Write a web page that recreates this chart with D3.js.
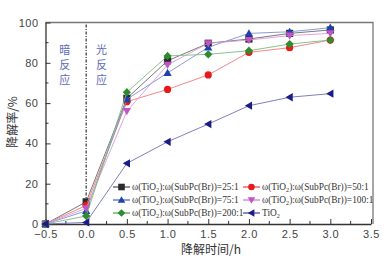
<!DOCTYPE html>
<html><head><meta charset="utf-8">
<script src="https://cdn.jsdelivr.net/npm/d3@7"></script>
<style>body{margin:0;background:#fff}svg{display:block}</style>
</head><body>
<svg id="c" width="390" height="261"></svg>
<script>
const times = [-0.5, 0, 0.5, 1.0, 1.5, 2.0, 2.5, 3.0];
const s25 = [0, 11, 62.4, 81, 89.7, 91.8, 94.6, 96.3];
const s50 = [0, 9.2, 60.7, 66.8, 74, 85.2, 87.5, 91.3];
const s75 = [0, 6.5, 61.9, 75, 87.7, 94.6, 95.4, 97.4];
const s100 = [0, 7.8, 56, 79, 89.7, 91.3, 93.5, 94.6];
const s200 = [0, 4, 65.4, 83.4, 84.2, 86, 89.3, 91.3];
const sTiO2 = [0, 0.8, 30.1, 40.8, 49.6, 58.7, 62.9, 64.7];
const ratios = ["25:1", "50:1", "75:1", "100:1", "200:1"];
const xTicks = [-0.5, 0.0, 0.5, 1.0, 1.5, 2.0, 2.5, 3.0, 3.5];
const yTicks = [0, 20, 40, 60, 80, 100];
const xLabel = "降解时间/h";
const yLabel = "降解率/%";
const darkLabel = "暗反应";
const lightLabel = "光反应";

const series = [
  {name: ratios[0], vals: s25, sym: "square", fill: "#2b2b2b", line: "#6a6a6a"},
  {name: ratios[1], vals: s50, sym: "circle", fill: "#e8191b", line: "#f07a7a"},
  {name: ratios[2], vals: s75, sym: "tri-up", fill: "#2040b0", line: "#7f90d0"},
  {name: ratios[3], vals: s100, sym: "tri-down", fill: "#c055c8", line: "#d89ad8"},
  {name: ratios[4], vals: s200, sym: "diamond", fill: "#2e8b2e", line: "#7cbc7c"},
  {name: "TiO2", vals: sTiO2, sym: "tri-left", fill: "#1c1c88", line: "#6f6fb8"}
];

const svg = d3.select("#c");
const x = d3.scaleLinear().domain([-0.5, 3.5]).range([45.5, 371]);
const y = d3.scaleLinear().domain([0, 100]).range([224, 22.5]);

svg.append("path").attr("d", `M${x(-0.5)},${y(100)}H${x(3.5)+2}V${y(0)}`)
  .attr("fill","none").attr("stroke","#777").attr("stroke-width",1.3);

const fontAx = "Liberation Sans, Arial, sans-serif";
const xAxis = d3.axisBottom(x).tickValues(xTicks).tickFormat(d3.format(".1f")).tickSizeInner(-5).tickSizeOuter(0).tickPadding(6);
const gx = svg.append("g").attr("transform", `translate(0,${y(0)})`).call(xAxis);
const xMinor = d3.range(-0.25, 3.5, 0.5);
gx.selectAll(".minor").data(xMinor).enter().append("line").attr("class","minor")
  .attr("x1", d=>x(d)).attr("x2", d=>x(d)).attr("y1",0).attr("y2",-3).attr("stroke","#333");
const yAxis = d3.axisLeft(y).tickValues(yTicks).tickSizeInner(-5).tickSizeOuter(0).tickPadding(7);
const gy = svg.append("g").attr("transform", `translate(${x(-0.5)},0)`).call(yAxis);
const yMinor = d3.range(10, 100, 20);
gy.selectAll(".minor").data(yMinor).enter().append("line").attr("class","minor")
  .attr("y1", d=>y(d)).attr("y2", d=>y(d)).attr("x1",0).attr("x2",3).attr("stroke","#333");
[gx, gy].forEach(g => {
  g.selectAll(".domain").attr("stroke","#333").attr("stroke-width",1.3);
  g.selectAll(".tick line").attr("stroke","#333");
  g.selectAll("text").attr("font-family", fontAx).attr("font-size", 11).attr("fill","#444").attr("letter-spacing", 0.5);
});

svg.append("line").attr("x1", x(0)).attr("x2", x(0)).attr("y1", y(100)+2).attr("y2", y(0))
  .attr("stroke","#444").attr("stroke-width",1.3).attr("stroke-dasharray","3,1.5,1,1.5");

function vText(str, cx, y0) {
  const g = svg.append("g");
  str.split("").forEach((ch,i) => {
    g.append("text").attr("x", cx).attr("y", y0 + i*15).attr("text-anchor","middle")
      .attr("font-family","Noto Sans CJK SC").attr("font-size",11).attr("fill","#5b6bb8").text(ch);
  });
}
vText(darkLabel, x(-0.25)-1, 54);
vText(lightLabel, x(0.2)-1, 54);

function sym(g, type, cx, cy, r, fill) {
  let s;
  if (type==="square") s = g.append("rect").attr("x",cx-r).attr("y",cy-r).attr("width",2*r).attr("height",2*r);
  else if (type==="circle") s = g.append("circle").attr("cx",cx).attr("cy",cy).attr("r",r);
  else {
    let pts;
    const k = r*1.15;
    if (type==="tri-up") pts=[[cx,cy-k],[cx+k,cy+k*0.75],[cx-k,cy+k*0.75]];
    else if (type==="tri-down") pts=[[cx,cy+k],[cx+k,cy-k*0.75],[cx-k,cy-k*0.75]];
    else if (type==="tri-left") pts=[[cx-k,cy],[cx+k*0.75,cy-k],[cx+k*0.75,cy+k]];
    else pts=[[cx,cy-k],[cx+k*0.5,cy-k*0.5],[cx+k,cy],[cx+k*0.5,cy+k*0.5],[cx,cy+k],[cx-k*0.5,cy+k*0.5],[cx-k,cy],[cx-k*0.5,cy-k*0.5]];
    s = g.append("polygon").attr("points", pts.map(p=>p.join(",")).join(" "));
  }
  s.attr("fill", fill);
}

const lineGen = d3.line().x((d,i)=>x(times[i])).y(d=>y(d));
series.forEach(s => {
  const g = svg.append("g");
  g.append("path").attr("d", lineGen(s.vals)).attr("fill","none").attr("stroke", s.line).attr("stroke-width",0.9);
  s.vals.forEach((v,i) => sym(g, s.sym, x(times[i]), y(v), 3.6, s.fill));
});

const legPos = [[113,187],[243,187],[113,200],[243,200],[113,213],[243,213]];
let legFs = 10;
series.forEach((s,i) => {
  const [lx, ly] = legPos[i];
  const g = svg.append("g");
  g.append("line").attr("x1",lx).attr("x2",lx+17).attr("y1",ly).attr("y2",ly).attr("stroke", s.fill).attr("stroke-width",1);
  sym(g, s.sym, lx+8.5, ly, 3.3, s.fill);
  const t = g.append("text").attr("x", lx+19).attr("y", ly+3.2).attr("font-family","Liberation Serif, serif").attr("font-size",legFs).attr("fill","#333");
  if (s.name === "TiO2") {
    t.append("tspan").text("TiO");
    t.append("tspan").attr("class","sub").attr("dy",2).text("2");
  } else {
    t.append("tspan").text("ω(TiO");
    t.append("tspan").attr("class","sub").attr("dy",2).text("2");
    t.append("tspan").attr("dy",-2).text("):ω(SubPc(Br))=" + s.name);
  }
  if (i === 0) {
    t.selectAll(".sub").attr("font-size", 6.5);
    legFs = 10 * 107 / t.node().getComputedTextLength();
    t.attr("font-size", legFs);
  }
  t.selectAll(".sub").attr("font-size", legFs*0.65);
});

svg.append("text").attr("x", 211).attr("y", 254).attr("text-anchor","middle")
  .attr("font-family","Noto Sans CJK SC").attr("font-size",12).attr("fill","#333").text(xLabel);
svg.append("text").attr("transform","translate(17,122) rotate(-90)").attr("text-anchor","middle")
  .attr("font-family","Noto Sans CJK SC").attr("font-size",12).attr("fill","#333").text(yLabel);
</script>
</body></html>
